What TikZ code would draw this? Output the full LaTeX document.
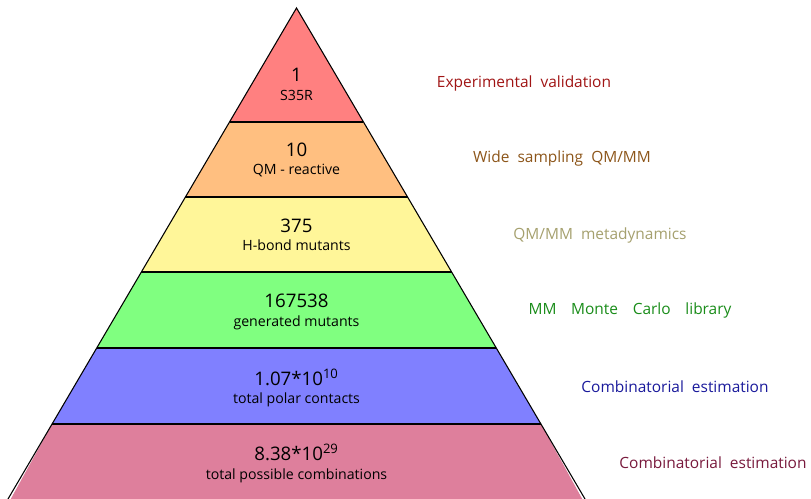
\documentclass[tikz,border=0pt]{standalone}
\usepackage{fontspec}
\setmainfont{Open Sans}
\usetikzlibrary{calc}
\definecolor{cRed}{RGB}{255,128,128}
\definecolor{cOrange}{RGB}{255,191,128}
\definecolor{cYellow}{RGB}{255,246,153}
\definecolor{cGreen}{RGB}{128,255,128}
\definecolor{cBlue}{RGB}{128,128,255}
\definecolor{cPink}{RGB}{222,127,156}
\definecolor{tRed}{RGB}{160,20,20}
\definecolor{tBrown}{RGB}{140,85,25}
\definecolor{tKhaki}{RGB}{165,160,110}
\definecolor{tGreen}{RGB}{25,140,25}
\definecolor{tBlue}{RGB}{25,25,155}
\definecolor{tMaroon}{RGB}{120,25,60}
\begin{document}
\begin{tikzpicture}[x=0.75pt,y=-0.75pt,
  layer/.style={draw=black,line width=0.8pt,line join=miter},
  num/.style={font=\fontsize{14}{16}\selectfont,inner sep=0pt,anchor=base},
  sub/.style={font=\fontsize{10.6}{12}\selectfont,inner sep=0pt,anchor=base},
  side/.style={font=\fontsize{11.6}{13}\selectfont,inner sep=0pt,anchor=base}]
\path[use as bounding box] (0,0) rectangle (811,499);
\begin{scope}
\clip (0,0) rectangle (811,499);
\coordinate (A) at (296.5,8);
\coordinate (BL) at (8,499);
\coordinate (BR) at (585,499);
\foreach \n/\t in {1/0.2322,2/0.3849,3/0.5377,4/0.6925,5/0.8473,6/1}{
  \coordinate (L\n) at ($(A)!\t!(BL)$);
  \coordinate (R\n) at ($(A)!\t!(BR)$);
}
\fill[cRed] (A) -- (L1) -- (R1) -- cycle;
\fill[cOrange] (L1) -- (L2) -- (R2) -- (R1) -- cycle;
\fill[cYellow] (L2) -- (L3) -- (R3) -- (R2) -- cycle;
\fill[cGreen] (L3) -- (L4) -- (R4) -- (R3) -- cycle;
\fill[cBlue] (L4) -- (L5) -- (R5) -- (R4) -- cycle;
\fill[cPink] (L5) -- ($(L6)+(0,5)$) -- ($(R6)+(0,5)$) -- (R5) -- cycle;
\foreach \n in {1,...,5}{\draw[layer] (L\n) -- (R\n);}
\draw[layer] ($(A)!1.01!(BL)$) -- (A) -- ($(A)!1.01!(BR)$);
\end{scope}
% pyramid labels
\node[num] (n1) at (296.5,82) {1};
\node[sub] (s1) at (296.5,101) {S35R};
\node[num] (n2) at (296.5,157) {10};
\node[sub] (s2) at (296.5,175) {QM - reactive};
\node[num] (n3) at (296.5,233) {375};
\node[sub] (s3) at (296.5,251) {H-bond mutants};
\node[num] (n4) at (296.5,307) {167538};
\node[sub] (s4) at (296.5,326) {generated mutants};
\node[num] (n5) at (296.5,385) {1.07*10\textsuperscript{10}};
\node[sub] (s5) at (296.5,403) {total polar contacts};
\node[num] (n6) at (296.5,460) {8.38*10\textsuperscript{29}};
\node[sub] (s6) at (296.5,479) {total possible combinations};
% side labels
\node[side,text=tRed] (r1) at (524,88) {Experimental\ \ validation};
\node[side,text=tBrown] (r2) at (562,163) {Wide\ \ sampling\ \ QM/MM};
\node[side,text=tKhaki] (r3) at (600,240) {QM/MM\ \ metadynamics};
\node[side,text=tGreen] (r4) at (630,315) {MM\hspace{0.95em}Monte\hspace{0.95em}Carlo\hspace{0.95em}library};
\node[side,text=tBlue] (r5) at (675,392) {Combinatorial\ \ estimation};
\node[side,text=tMaroon] (r6) at (713,468) {Combinatorial\ \ estimation};
\end{tikzpicture}
\end{document}
